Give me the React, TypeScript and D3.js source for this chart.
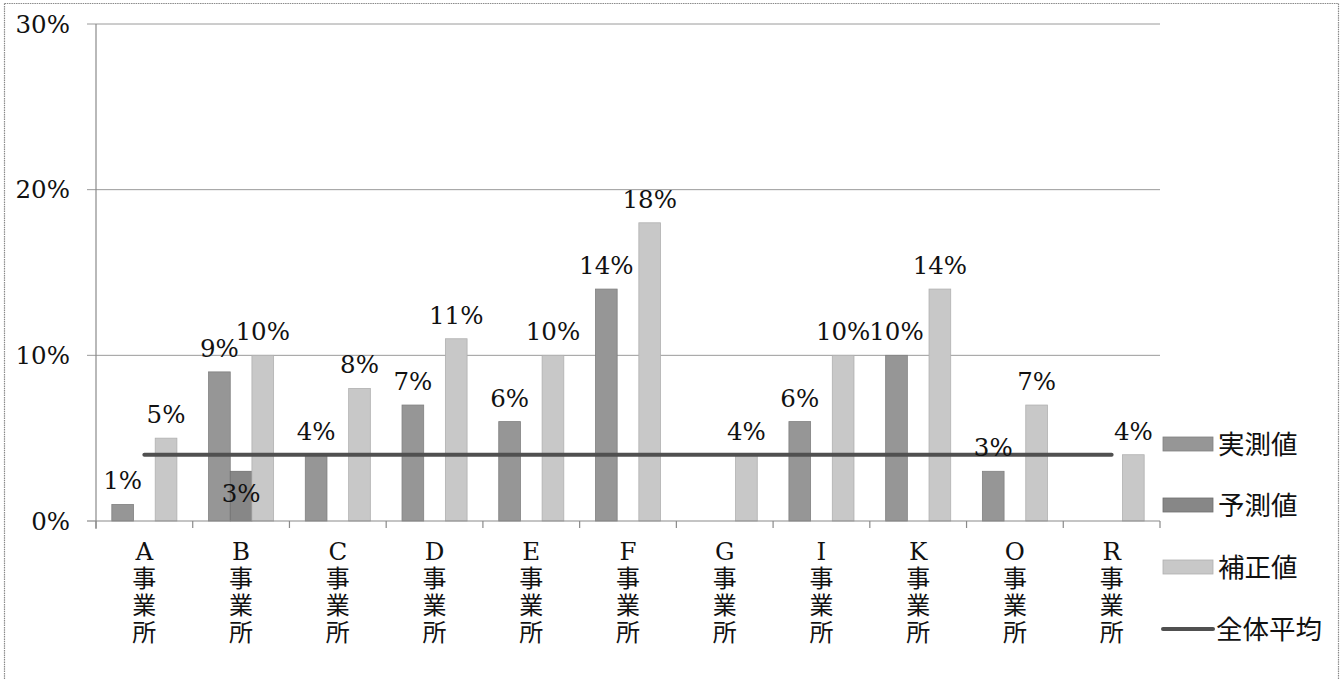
import React from "react";
import * as d3 from "d3";

const categories = ["A", "B", "C", "D", "E", "F", "G", "I", "K", "O", "R"];
const seriesNames = ["実測値", "予測値", "補正値"];
const measured: (number | null)[] = [1, 9, 4, 7, 6, 14, null, 6, 10, 3, null];
const predicted: (number | null)[] = [null, 3, null, null, null, null, null, null, null, null, null];
const corrected: (number | null)[] = [5, 10, 8, 11, 10, 18, 4, 10, 14, 7, 4];
const averageValue = 4;
const averageName = "全体平均";
const yTicks = [0, 10, 20, 30];
const categorySuffix = ["事", "業", "所"];

const seriesValues = [measured, predicted, corrected];
const seriesFill = ["#969696", "#878787", "#c8c8c8"];
const seriesStroke = ["#808080", "#6e6e6e", "#b0b0b0"];

const W = 1343;
const H = 679;
const left = 96;
const right = 1160;
const top = 24;
const bottom = 521;

const serif = "'DejaVu Serif', serif";
const cjk = "'Noto Sans CJK JP', 'Noto Sans', sans-serif";

export default function App() {
  const x0 = d3.scaleBand<string>().domain(categories).range([left, right]).padding(0);
  const x1 = d3
    .scaleBand<string>()
    .domain(seriesNames)
    .range([0, x0.bandwidth()])
    .paddingInner(0)
    .paddingOuter(0.73);
  const y = d3.scaleLinear().domain([0, 30]).range([bottom, top]);

  const avgLine = d3.line<string>()
    .x((c) => (x0(c) as number) + x0.bandwidth() / 2)
    .y(() => y(averageValue));

  const bandEdges = categories.map((c) => x0(c) as number).concat([right]);

  const legendY = [444, 505, 567, 629];

  return (
    <svg
      width={W}
      height={H}
      style={{ position: "absolute", left: 0, top: 0, background: "#fff" }}
    >
      <rect x={4.5} y={3.5} width={1334} height={700} fill="#fff" stroke="#8a8a8a" strokeWidth={1.2} strokeDasharray="1.5 0.8" />

      {/* gridlines */}
      {yTicks.filter((t) => t > 0).map((t) => (
        <line key={t} x1={left - 9} x2={right} y1={y(t)} y2={y(t)} stroke="#9a9a9a" strokeWidth={1} />
      ))}
      {/* y axis */}
      <line x1={left} x2={left} y1={top} y2={bottom + 8} stroke="#8a8a8a" strokeWidth={1.2} />
      <line x1={left - 9} x2={left} y1={bottom} y2={bottom} stroke="#8a8a8a" strokeWidth={1.2} />
      {yTicks.map((t) => (
        <text key={t} x={70} y={y(t)} dy="0.36em" textAnchor="end" fontFamily={serif} fontSize={24.5} fill="#111">
          {t}%
        </text>
      ))}

      {/* bars */}
      {seriesValues.map((vals, si) =>
        vals.map((v, ci) =>
          v == null ? null : (
            <rect
              key={`b${si}-${ci}`}
              x={(x0(categories[ci]) as number) + (x1(seriesNames[si]) as number)}
              y={y(v)}
              width={x1.bandwidth()}
              height={bottom - y(v)}
              fill={seriesFill[si]}
              stroke={seriesStroke[si]}
              strokeWidth={0.8}
            />
          )
        )
      )}

      {/* x axis */}
      <line x1={left} x2={right} y1={bottom} y2={bottom} stroke="#8a8a8a" strokeWidth={1.2} />
      {bandEdges.map((e, i) => (
        <line key={i} x1={e} x2={e} y1={bottom} y2={bottom + 7} stroke="#8a8a8a" strokeWidth={1.2} />
      ))}

      {/* average line */}
      <path d={avgLine([categories[0], categories[categories.length - 1]]) || ""} stroke="#505050" strokeWidth={4} fill="none" strokeLinecap="round" />

      {/* value labels */}
      {seriesValues.map((vals, si) =>
        vals.map((v, ci) => {
          if (v == null) return null;
          const cx = (x0(categories[ci]) as number) + (x1(seriesNames[si]) as number) + x1.bandwidth() / 2;
          const by = si === 1 ? y(v) + 31 : y(v) - 15;
          return (
            <text key={`l${si}-${ci}`} x={cx} y={by} textAnchor="middle" fontFamily={serif} fontSize={24.5} fill="#111">
              {v}%
            </text>
          );
        })
      )}

      {/* category labels (one text per category, stacked lines) */}
      {categories.map((c) => {
        const cx = (x0(c) as number) + x0.bandwidth() / 2;
        return (
          <text key={c} x={cx} y={554} dy="0.36em" textAnchor="middle" fill="#111">
            <tspan x={cx} fontFamily={serif} fontSize={24.5}>{c}</tspan>
            {categorySuffix.map((ch, i) => (
              <tspan key={i} x={cx} dy={27} fontFamily={cjk} fontSize={24}>
                {ch}
              </tspan>
            ))}
          </text>
        );
      })}

      {/* legend */}
      {seriesNames.map((n, i) => (
        <g key={n}>
          <rect x={1163} y={legendY[i] - 7} width={50} height={14} fill={seriesFill[i]} stroke={seriesStroke[i]} strokeWidth={0.8} />
          <text x={1218} y={legendY[i]} dy="0.36em" fontFamily={cjk} fontSize={26.5} fill="#111">
            {n}
          </text>
        </g>
      ))}
      <line x1={1163} x2={1213} y1={legendY[3]} y2={legendY[3]} stroke="#505050" strokeWidth={4} strokeLinecap="round" />
      <text x={1216} y={legendY[3]} dy="0.36em" fontFamily={cjk} fontSize={26.5} fill="#111">
        {averageName}
      </text>
    </svg>
  );
}
